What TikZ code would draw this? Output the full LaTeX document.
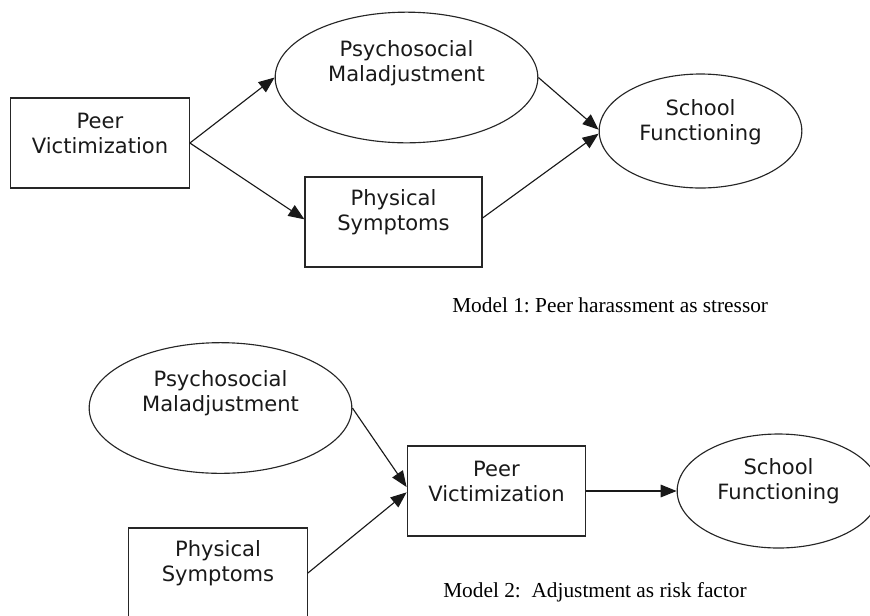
\documentclass[tikz,border=0pt]{standalone}
\usepackage{fontspec}
\setmainfont{DejaVu Sans}
\newfontfamily\capfont{Liberation Serif}
\usetikzlibrary{shapes.geometric, arrows.meta, positioning}

\begin{document}
\begin{tikzpicture}[
  x=0.75pt, y=-0.75pt,
  box/.style={rectangle, draw=black!85, line width=0.85pt, minimum width=134pt,
    minimum height=67.5pt, inner sep=0pt},
  bigoval/.style={ellipse, draw=black!85, line width=0.85pt, minimum width=197pt,
    minimum height=98pt, inner sep=0pt},
  oval/.style={ellipse, draw=black!85, line width=0.85pt, minimum width=152pt,
    minimum height=85.5pt, inner sep=0pt},
  txt/.style={align=center, inner sep=0pt, text=black!90,
    font=\fontsize{15.8}{18.8}\selectfont},
  caption/.style={anchor=west, inner sep=0pt,
    font=\capfont\frenchspacing\fontsize{16}{19}\selectfont},
  arrow/.style={-{Triangle[length=12pt, width=9.5pt]}, line width=0.85pt, draw=black!90}
]
\useasboundingbox (0,0) rectangle (870,615);
\clip (0,0) rectangle (870,615);

% Model 1
\node (pv1) [box] at (100,143) {};
\node (psy1) [bigoval] at (406.5,77.5) {};
\node (sym1) [box, minimum width=132.75pt] at (393.5,222) {};
\node (sch1) [oval] at (700.5,131) {};

\node (pv1t) [txt] at ([yshift=7.5pt]pv1.center) {Peer\\Victimization};
\node (psy1t) [txt] at ([yshift=11pt]psy1.center) {Psychosocial\\Maladjustment};
\node (sym1t) [txt] at ([yshift=7.5pt]sym1.center) {Physical\\Symptoms};
\node (sch1t) [txt] at ([yshift=6.5pt]sch1.center) {School\\Functioning};

\draw [arrow] (pv1.east) -- (psy1.west);
\draw [arrow] (pv1.east) -- ([yshift=2pt]sym1.west);
\draw [arrow] (psy1.east) -- ([yshift=1pt]sch1.west);
\draw [arrow] ([yshift=3pt]sym1.east) -- ([yshift=-2pt]sch1.west);

\node (cap1) [caption] at (452,305) {Model 1: Peer harassment as stressor};

% Model 2
\node (psy2) [bigoval] at (220.5,408) {};
\node (sym2) [box] at (218,573) {};
\node (pv2) [box] at (496.5,491) {};
\node (sch2) [oval] at (778.5,491) {};

\node (psy2t) [txt] at ([yshift=11pt]psy2.center) {Psychosocial\\Maladjustment};
\node (sym2t) [txt] at ([yshift=7.5pt]sym2.center) {Physical\\Symptoms};
\node (pv2t) [txt] at ([yshift=7.5pt]pv2.center) {Peer\\Victimization};
\node (sch2t) [txt] at ([yshift=7.5pt]sch2.center) {School\\Functioning};

\draw [arrow] (psy2.east) -- ([yshift=3pt]pv2.west);
\draw [arrow] (sym2.east) -- ([yshift=-1pt]pv2.west);
\draw [arrow] (pv2.east) -- (sch2.west);

\node (cap2) [caption] at (443,592) {Model 2:\ \ Adjustment as risk factor};

\end{tikzpicture}
\end{document}
